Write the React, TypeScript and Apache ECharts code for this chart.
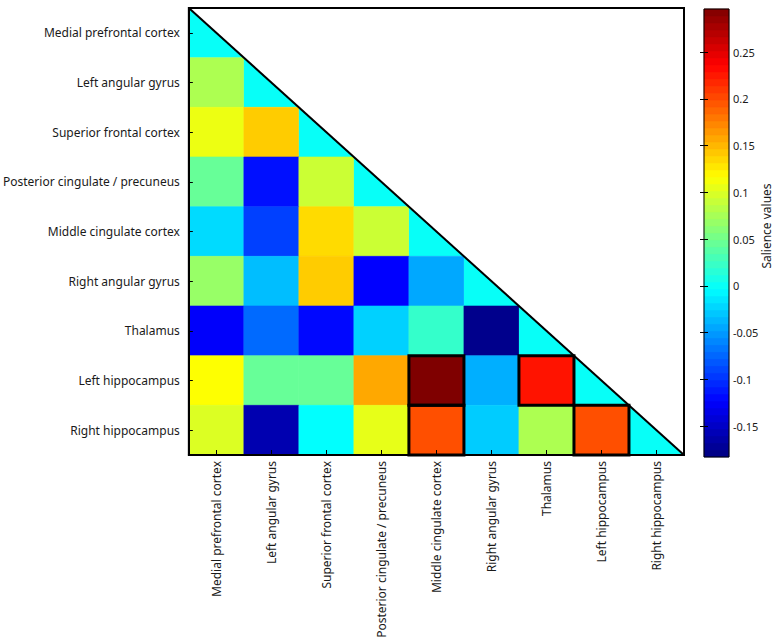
import React, { useEffect, useRef } from "react";
import * as echarts from "echarts";

const regions = [
  "Medial prefrontal cortex",
  "Left angular gyrus",
  "Superior frontal cortex",
  "Posterior cingulate / precuneus",
  "Middle cingulate cortex",
  "Right angular gyrus",
  "Thalamus",
  "Left hippocampus",
  "Right hippocampus",
];

// lower triangle (row by row, including the diagonal)
const salienceRows: number[][] = [
  [0],
  [0.078, 0],
  [0.108, 0.14, 0],
  [0.045, -0.116, 0.092, 0],
  [-0.02, -0.093, 0.133, 0.092, 0],
  [0.068, -0.034, 0.14, -0.123, -0.044, 0],
  [-0.125, -0.073, -0.12, -0.025, 0.021, -0.177, 0],
  [0.116, 0.045, 0.045, 0.157, 0.296, -0.041, 0.227, 0],
  [0.1, -0.16, -0.003, 0.105, 0.199, -0.027, 0.078, 0.199, 0],
];

// highlighted (significant) cells: [column, row]
const highlighted: number[][] = [
  [4, 7],
  [4, 8],
  [6, 7],
  [7, 8],
];

const colorMin = -0.183;
const colorMax = 0.296;
const colorbarTicks = [-0.15, -0.1, -0.05, 0, 0.05, 0.1, 0.15, 0.2, 0.25];
const colorbarLevels = 64;
const colorbarTitle = "Salience values";

const jet = [
  "#00007f",
  "#0000ff",
  "#007fff",
  "#00ffff",
  "#7fff7f",
  "#ffff00",
  "#ff7f00",
  "#ff0000",
  "#7f0000",
];

const FONT = "Noto Sans";

export default function App() {
  const ref = useRef<HTMLDivElement>(null);
  useEffect(() => {
    if (!ref.current) return;
    const chart = echarts.init(ref.current, undefined, { renderer: "svg" });

    const cells: number[][] = [];
    salienceRows.forEach((row, r) => row.forEach((v, c) => cells.push([c, r, v])));

    const step = (colorMax - colorMin) / colorbarLevels;
    const barData: number[][] = [];
    for (let k = 0; k < colorbarLevels; k++) {
      const v = colorMin + (k + 0.5) * step;
      barData.push([0.5, v, v]);
    }

    chart.setOption({
      animation: false,
      backgroundColor: "#ffffff",
      grid: [
        {
          left: 185,
          top: 8,
          width: 499,
          height: 447,
          show: true,
          borderColor: "#000",
          borderWidth: 2,
          backgroundColor: "transparent",
          z: 10,
        },
        {
          left: 704,
          top: 9,
          width: 25,
          height: 448,
          show: true,
          borderColor: "#000",
          borderWidth: 1,
          backgroundColor: "transparent",
          z: 10,
        },
      ],
      graphic: [
        {
          type: "text",
          x: 766,
          y: 226,
          rotation: Math.PI / 2,
          style: {
            text: colorbarTitle,
            fontSize: 12,
            fontFamily: FONT,
            fill: "#1a1a1a",
            align: "center",
            verticalAlign: "middle",
          },
        },
      ],
      visualMap: {
        type: "continuous",
        show: false,
        min: colorMin,
        max: colorMax,
        dimension: 2,
        seriesIndex: [0, 3],
        inRange: { color: jet },
      },
      xAxis: [
        {
          type: "category",
          gridIndex: 0,
          data: regions,
          position: "bottom",
          z: 10,
          axisLine: { show: true, lineStyle: { color: "#000", width: 2 } },
          axisTick: {
            show: true,
            inside: true,
            alignWithLabel: true,
            length: 5,
            lineStyle: { color: "#000", width: 1 },
          },
          axisLabel: {
            rotate: 90,
            margin: 6,
            fontSize: 12,
            fontFamily: FONT,
            color: "#1a1a1a",
            interval: 0,
          },
          splitLine: { show: false },
        },
        {
          type: "value",
          gridIndex: 1,
          min: 0,
          max: 1,
          show: false,
        },
      ],
      yAxis: [
        {
          type: "category",
          gridIndex: 0,
          data: regions,
          inverse: true,
          z: 10,
          axisLine: { show: true, lineStyle: { color: "#000", width: 2 } },
          axisTick: {
            show: true,
            inside: true,
            alignWithLabel: true,
            length: 4,
            lineStyle: { color: "#000", width: 1 },
          },
          axisLabel: {
            margin: 9,
            fontSize: 12,
            fontFamily: FONT,
            color: "#1a1a1a",
            interval: 0,
          },
          splitLine: { show: false },
        },
        {
          type: "value",
          gridIndex: 1,
          position: "right",
          min: colorMin,
          max: colorMax,
          z: 10,
          axisLine: { show: false },
          axisTick: {
            show: true,
            inside: true,
            length: 4,
            customValues: colorbarTicks,
            lineStyle: { color: "#000", width: 1 },
          },
          axisLabel: {
            margin: 4,
            fontSize: 11,
            fontFamily: FONT,
            color: "#1a1a1a",
            customValues: colorbarTicks,
            formatter: (v: number) => String(v),
          },
          splitLine: { show: false },
        },
        {
          type: "value",
          gridIndex: 1,
          position: "left",
          min: colorMin,
          max: colorMax,
          z: 10,
          axisLine: { show: false },
          axisTick: {
            show: true,
            inside: true,
            length: 4,
            customValues: colorbarTicks,
            lineStyle: { color: "#000", width: 1 },
          },
          axisLabel: { show: false },
          splitLine: { show: false },
        },
      ],
      series: [
        {
          type: "custom",
          name: "salience",
          xAxisIndex: 0,
          yAxisIndex: 0,
          z: 2,
          encode: { x: 0, y: 1 },
          data: cells,
          renderItem: (params: any, api: any) => {
            const xi = api.value(0);
            const yi = api.value(1);
            const c = api.coord([xi, yi]);
            const s = api.size([1, 1]);
            const l = c[0] - s[0] / 2;
            const t = c[1] - s[1] / 2;
            const color = api.visual("color");
            if (xi === yi) {
              return {
                type: "polygon",
                shape: { points: [[l, t], [l, t + s[1]], [l + s[0], t + s[1]]] },
                style: { fill: color },
              };
            }
            return {
              type: "rect",
              shape: { x: l, y: t, width: s[0], height: s[1] },
              style: { fill: color, stroke: color, lineWidth: 0.6 },
            };
          },
        },
        {
          type: "custom",
          name: "diagonal",
          xAxisIndex: 0,
          yAxisIndex: 0,
          z: 5,
          data: [[0, 0]],
          renderItem: (params: any) => {
            const cs = params.coordSys;
            return {
              type: "line",
              shape: { x1: cs.x, y1: cs.y, x2: cs.x + cs.width, y2: cs.y + cs.height },
              style: { stroke: "#000", lineWidth: 2 },
            };
          },
        },
        {
          type: "custom",
          name: "highlight",
          xAxisIndex: 0,
          yAxisIndex: 0,
          z: 6,
          data: highlighted,
          renderItem: (params: any, api: any) => {
            const c = api.coord([api.value(0), api.value(1)]);
            const s = api.size([1, 1]);
            return {
              type: "rect",
              shape: { x: c[0] - s[0] / 2, y: c[1] - s[1] / 2, width: s[0], height: s[1] },
              style: { fill: "none", stroke: "#000", lineWidth: 3 },
            };
          },
        },
        {
          type: "custom",
          name: "colorbar",
          xAxisIndex: 1,
          yAxisIndex: 1,
          z: 2,
          encode: { x: 0, y: 1 },
          data: barData,
          renderItem: (params: any, api: any) => {
            const cs = params.coordSys;
            const v = api.value(1);
            const yTop = api.coord([0.5, v + step / 2])[1];
            const yBot = api.coord([0.5, v - step / 2])[1];
            const color = api.visual("color");
            return {
              type: "rect",
              shape: { x: cs.x, y: yTop, width: cs.width, height: yBot - yTop },
              style: { fill: color, stroke: color, lineWidth: 0.5 },
            };
          },
        },
      ],
    });

    return () => chart.dispose();
  }, []);

  return (
    <div
      ref={ref}
      style={{ position: "fixed", left: 0, top: 0, width: 773, height: 642 }}
    />
  );
}
